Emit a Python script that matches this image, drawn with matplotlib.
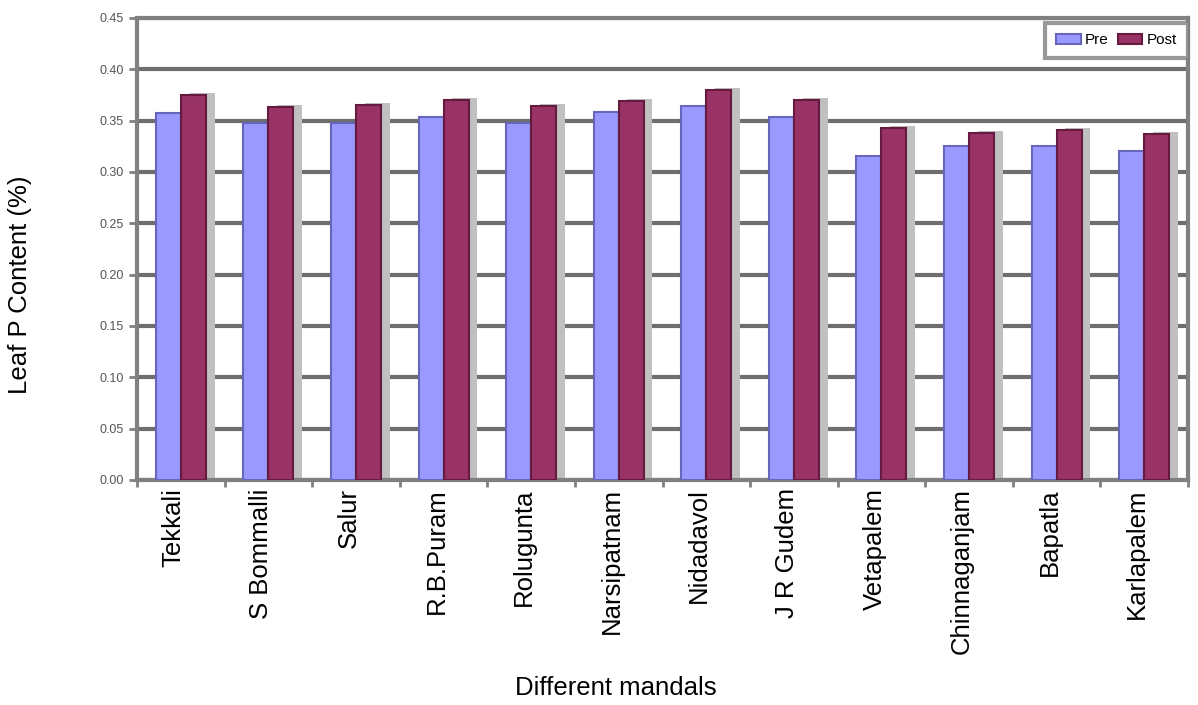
import numpy as np
import matplotlib.pyplot as plt

plt.rcParams['font.family'] = ['Liberation Sans', 'DejaVu Sans']

mandals = ['Tekkali', 'S Bommalli', 'Salur', 'R.B.Puram', 'Rolugunta', 'Narsipatnam',
           'Nidadavol', 'J R Gudem', 'Vetapalem', 'Chinnaganjam', 'Bapatla', 'Karlapalem']
pre = [0.357, 0.348, 0.348, 0.354, 0.348, 0.358, 0.364, 0.354, 0.316, 0.325, 0.325, 0.320]
post = [0.375, 0.363, 0.365, 0.370, 0.364, 0.369, 0.380, 0.370, 0.343, 0.338, 0.341, 0.337]
yticks = [0.00, 0.05, 0.10, 0.15, 0.20, 0.25, 0.30, 0.35, 0.40, 0.45]

fig = plt.figure(figsize=(11.98, 7.05), dpi=100)
ax = fig.add_axes([137 / 1198, 1 - 480 / 705, 1051 / 1198, 462 / 705])

x = np.arange(len(mandals))
w = 0.285
# grey depth shadow behind each bar
ax.bar(x - w / 2 + 0.1, pre, w, color='#c0c0c0', zorder=1)
ax.bar(x + w / 2 + 0.1, np.array(post) + 0.002, w, color='#c0c0c0', zorder=1)
ax.bar(x - w / 2, pre, w, color='#9999ff', edgecolor='#6666bb', linewidth=1.5, label='Pre', zorder=3)
ax.bar(x + w / 2, post, w, color='#993366', edgecolor='#661a40', linewidth=1.5, label='Post', zorder=3)

ax.set_xlim(-0.5, len(mandals) - 0.5)
ax.set_ylim(0, 0.45)
ax.set_yticks(yticks)
ax.set_yticklabels([f'{v:.2f}' for v in yticks], fontsize=9, color='#555555')
ax.yaxis.grid(True, color='#6e6e6e', linewidth=3, zorder=0)
ax.set_axisbelow(True)

ax.set_xticks(x - 0.08)
ax.set_xticklabels(mandals, rotation=90, fontsize=18.5)
ax.set_xticks(np.arange(len(mandals) + 1) - 0.5, minor=True)
ax.tick_params(axis='x', which='major', length=0, pad=6)
ax.tick_params(axis='x', which='minor', length=5, color='#808080', width=2)
ax.tick_params(axis='y', length=6, color='#808080', width=2)

for s in ax.spines.values():
    s.set_color('#808080')
    s.set_linewidth(3)

fig.text(616 / 1198, 1 - 688 / 705, 'Different mandals', fontsize=18.5, ha='center', va='center')
fig.text(20 / 1198, 1 - 285 / 705, 'Leaf P Content (%)', rotation=90, fontsize=18.5,
         ha='center', va='center')

leg = ax.legend(loc='upper right', ncol=2, fontsize=11, frameon=True, fancybox=False,
                borderpad=0.7, handlelength=1.6, handletextpad=0.3, columnspacing=0.6,
                borderaxespad=0, bbox_to_anchor=(1.0, 0.99))
leg.get_frame().set_edgecolor('#808080')
leg.get_frame().set_linewidth(3)

fig.savefig('out.png', dpi=100)
